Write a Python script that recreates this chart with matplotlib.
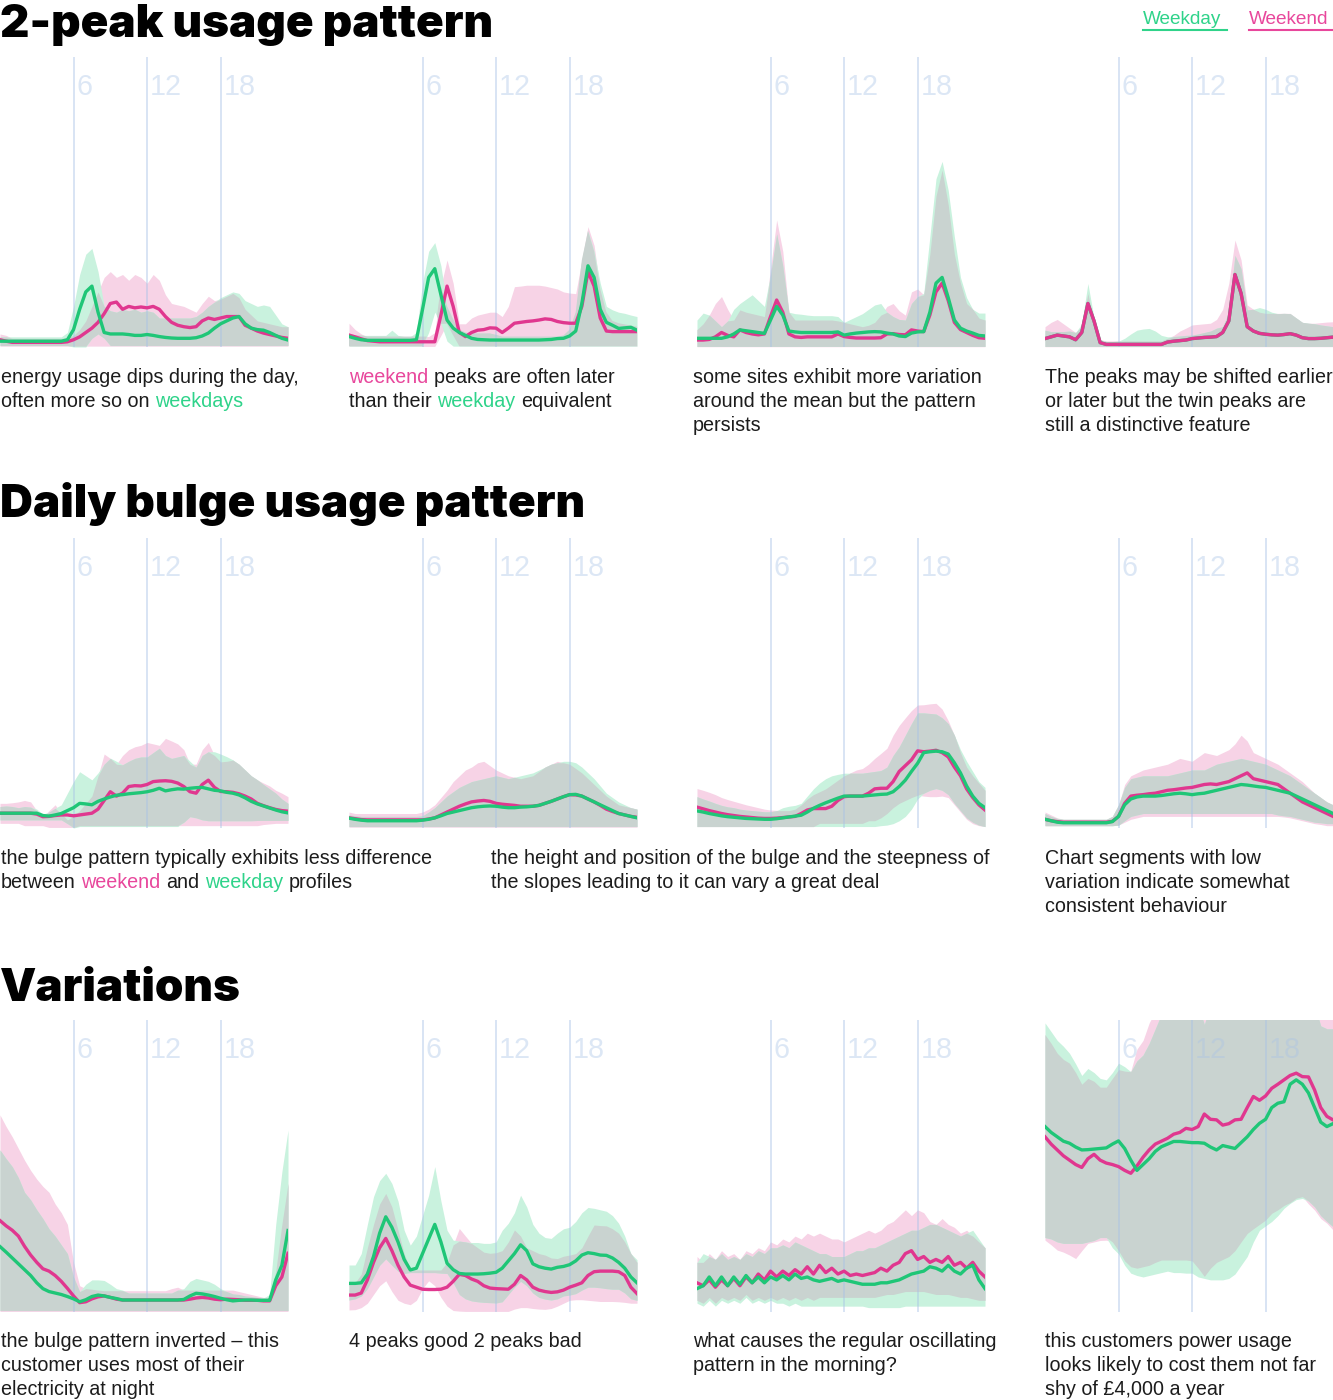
import numpy as np
import matplotlib
matplotlib.use("Agg")
import matplotlib.pyplot as plt
from matplotlib.font_manager import FontProperties
from matplotlib.lines import Line2D

# ---------------- data ----------------
HOURS = np.arange(48) * 0.5
GRID_HOURS = [6, 12, 18]
GRID_LABELS = ["6", "12", "18"]
SECTION_TITLES = ["2-peak usage pattern", "Daily bulge usage pattern", "Variations"]
LEGEND_LABELS = ["Weekday", "Weekend"]

# values in % of panel height
p1_wd = [2,2,2,2,2,2,2,2,2,2,2,2.5, 6,13,19,21,12,5,4.5,4.5, 4.5,4.3,4,4,4.3,4,3.6,3.3, 3.1,3,3,3,3.2,3.8,4.8,6.5, 8,9,10,10.5,8,6.5,6,5.8, 5,4,3,2.4]
p1_we = [2.5,2,1.6,1.6,1.6,1.6,1.6,1.6,1.6,1.6,1.6,1.8, 2.5,3.5,5,6.5,8.5,11.5,15,15.5, 13,14,13.5,13.8,13.5,14,13,10.5, 8.5,7.5,7,6.7,7,9,10,9.5, 10,10.5,10.5,10.5,7.5,6.5,5.5,4.8, 4.3,3.8,3.3,3]
p1_wd_hi = [3.5]*11 + [5, 14,25,32,34,26,14,12.5,12, 13,12.5,13,12,12.5,12,10,10, 10,10,10,10,10.5,12,14,15.5, 17,18,19,18.5,16,15,14,14.5, 14,11,8,7]
p1_wd_lo = [0.5]*12 + [0,0,0,3,4.5,3] + [0.5]*30
p1_we_hi = [4.5,4,3,3,3,3,3,3,3,3,3,3.2, 4,6,9,14,19,24,26,24, 25,23,25,24,22,25,23,18, 15,14.5,14,13,12,15,17.5,16, 16.5,17.5,18.5,17,13,11,9,8.5, 8,7.5,7,7]
p1_we_lo = [0.3]*48

p2_wd = [3.6,3,2.5,2.3,2.3,2.3,2.3,2.3,2.3,2.3,2.3,2.5, 13,24,27,18,9.3,6.5,5,4, 3,2.6,2.5,2.4,2.4,2.4,2.4,2.4, 2.4,2.4,2.4,2.4,2.5,2.6,2.9,3, 3.8,5.5,15,28,24,13,8.5,7.5, 6.4,6.6,6.8,5.8]
p2_we = [4.1,3.5,2.8,2.2,2,1.8,1.8,1.8,1.8,1.8,1.8,1.8, 1.8,1.8,1.8,11,21,14,5,3.6, 5,5.8,6,6.6,6.5,5,6.5,8.2, 8.5,8.8,9,9.3,9.7,9.5,8.8,8.4, 8.2,8.2,14,26,21,10,5.5,5.3, 5.3,5.3,5.3,5.3]
p2_wd_hi = [4.7,4,4,4,4,4,4,5.8,4,3.6,3.6,5, 22,33,36,28,14,9.5,6,5, 4.7,4.7,4.7,4.7,4.2,3.6,3.6,3.6, 3.6,3.6,3.6,3.6,3.6,3.6,3.6,4, 6,12,30,40,33,22,14,12.8, 12,11.6,11,10.5]
p2_wd_lo = [0.3]*13 + [5,12,8,2] + [0.3]*31
p2_we_hi = [8.2,6,4.5,3.6,3.6,3.6,3.6,3.6,3.6,3.6,3.6,3.6, 3.6,3.6,5,21,30,22,8,8, 10,11,11.5,12,12,10.5,14,20.8, 21,21.3,21.3,21.3,21,20.5,20,19, 18.6,18.4,30,41.5,35,20,12,9, 8.2,7.8,7.4,7]
p2_we_lo = [0.2]*15 + [4,8,4] + [0.3]*30

p3_wd = [3,3,3,3,3,3.5,4.5,5.9,5.6,5.3,5,4.7, 9.3,14,11,5.5,5.2,5,5,5, 5,5,5,5.2,4.1,4.5,4.8,5, 5.2,5.3,5.2,4.8,4.5,3.8,3.6,4.8, 5.2,5.3,12,22,24,17,9.3,6.5, 5.5,4.8,4,3.8]
p3_we = [2.4,2.4,2.6,3.5,5,4,3.5,5.9,5,4.5,4.2,4.5, 10.5,16.2,12,4.5,3.5,3.3,3.5,3.5, 3.5,3.5,3.5,4.5,3.6,3.3,3.1,3.1, 3.1,3.1,3.2,4.5,4.6,4.3,4.2,5.9, 5.5,5.3,11,19,22,16,8.5,6, 5,4,3.2,3]
p3_wd_hi = [9.3,11.7,11,9,7,9,13,15,16.5,18,16,14, 25,39,28,12,11.5,11.3,11,10.8, 10.8,10.8,10.8,10.5,8.5,9.5,10.5,11.5, 13,14.5,15,12,10.5,9.5,9.3,15, 17.4,18.5,38,58,64,54,38,24, 17,13,11.7,11.7]
p3_wd_lo = [0.2]*48
p3_we_hi = [6,8,11,15,17.4,13,9.3,12.8,12,11.5,11,10.5, 27,43.8,33,12,9.3,9.3,9.3,9.3, 9.3,9.3,9.3,9,8.5,8,7.5,7, 7.5,8.5,11,14,15,12.5,11,19, 20,18,32,52,61,49,32,22, 15,13,10,9.3]
p3_we_lo = [0.1]*48

p4_we = [2.9,3.5,4.1,3.8,3.5,2.5,5,15,9,1.5,0.9,0.9, 0.9,0.9,0.9,0.9,0.9,0.9,0.9,0.9, 1.7,2,2.2,2.4,2.9,3.1,3.3,3.4, 3.6,5,9,25,18.5,7,5.5,4.7, 4.4,4.2,4.1,4.3,4.6,4.1,3.2,2.9, 2.9,3,3.2,3.4]
p4_wd = [2.9,3.5,4.1,3.8,3.5,2.5,5,15,9,1.5,0.9,0.9, 0.9,0.9,0.9,0.9,0.9,0.9,0.9,0.9, 1.7,2,2.2,2.4,2.9,3.1,3.3,3.4, 3.6,5,9,25,18.5,7,5.5,4.7, 4.4,4.2,4.1,4.3,4.6,4.1,3.2,2.9, 2.9,3,3.2,3.4]
p4_wd_hi = [5.8,5.3,5.3,5.3,5.5,5,8,21.9,10,2.5,1.9,1.9, 2,3,4.5,5.8,6.2,6.4,5.5,4, 3.5,3.6,3.8,4,4.1,4.5,5,5.5, 6.5,7,12,31.6,27,12.8,13,13.6, 13,12,11.5,11.6,11.5,10,8.5,8.2, 8,7.6,7.3,7]
p4_wd_lo = [0.2]*48
p4_we_hi = [7,8.5,9.5,8,6.5,5,7,18.5,8,2.5,2.1,2.1, 2.1,2.1,2.1,2.1,2.1,2.1,2.1,2.1, 3,4,5.5,6.5,7.6,7.8,8,8.2, 9.5,13,22,36.9,30,14.5,13,12, 11.6,11.6,11.6,11.6,11.6,10,8.5,8.2, 8.2,8.4,8.6,8.7]
p4_we_lo = [0.1]*48

p5_wd = [5.1,5.1,5.1,5.1,5.1,5.1,5.1,4.3,4.1,4.5,5,6, 7,8.5,8.3,8,9.2,10,10.7,11.3, 11.5,11.8,12,12.2,12.5,13,13.7,12.8, 13.2,13.5,13.4,13.7,13.9,14,13.5,13, 12.8,12.3,12,11.4,10.4,9.2,8.3,7.6, 6.9,6.2,5.6,5.2]
p5_we = [5.1,5.1,5.1,5.1,5.1,5.1,4.8,3.9,4,4.3,4.5,4.5, 4.2,4.5,4.8,5.1,6.5,9.5,12.5,11, 12,14.3,14.6,14.5,15,16,16.2,16.3, 16.1,15.5,14.3,12.5,12,15,16.5,14, 12.6,12.5,12.3,11.8,11,10,8.5,7.7, 7,6.4,6,5.8]
p5_wd_hi = [7.4,7.6,7.4,7,7.4,7.2,6.5,4.8,5.5,6.8,8,12, 16,19.4,18,16.6,19,22,24.1,23, 21.8,23,24,24.5,24.5,26,27.5,25, 24,24.5,25,23,21,25,26.3,26.3, 25.5,24.6,23.5,22,20,18,16.6,15, 13.5,12,10,8.5]
p5_wd_lo = [2.8]*11 + [1.5,0] + [0.5]*17 + [2,3.9,3.5,2.8] + [2.5]*8 + [2.6]*6
p5_we_hi = [8.5,8.5,8.7,9,9.5,9,6,3.9,6,8,5,2.8, 4,6,8.5,11,18,25.5,24,22, 25,27,28,28.5,29.5,29,28.5,30.9, 30,29,27,22,22,27,29.5,25, 22.8,23,23.4,22,20,18,16.6,15.5, 14.5,13,12,10.8]
p5_we_lo = [1.6]*4 + [0.8]*4 + [0.2]*5 + [0.8]*30 + [1.2,1.4,1.6,1.6,1.6]

p6_wd = [3.4,3,2.7,2.5,2.5,2.5,2.5,2.5,2.5,2.5,2.5,2.5, 2.7,3,3.5,4.2,5,5.5,6,6.5, 7,7.3,7.5,7.6,7.5,7.2,7,7, 7.2,7.3,7.5,7.8,8.5,9.2,10,10.8, 11.5,11.6,11,10,9,8,7,6, 5,4.5,4,3.5]
p6_we = [3.5,3.2,2.9,2.8,2.8,2.8,2.8,2.8,2.8,2.8,2.8,2.8, 2.8,3.1,3.5,4.5,5.5,6.5,7.5,8.3, 9,9.3,9.5,9.2,8.5,8.2,8,7.8, 7.5,7.5,7.5,7.8,8.5,9.2,10,10.8, 11.5,11.4,11,10,9,7.8,6.5,5.7, 5,4.5,4,3.7]
p6_wd_hi = [4.5,4.2,4,4,4,4,4,4,4,4,4,4, 4.2,5.5,7,9,11,12.5,14,15, 16,16.5,17,17.5,18,17.5,17,17.5, 18,18.5,19,20,21,22,22.5,23, 23,22.5,21,19,17,14.5,12,10.5, 9,8,7,6.5]
p6_wd_lo = [0.5]*48
p6_we_hi = [5.5,5,5,5,5,5,5,5,5,5,5,5, 5.5,6.5,8,10.5,13,16,18,20, 21,22.5,23,21.5,20,19,18,17.5, 17,17.5,18,19.5,21,22,23,22.5, 22,20.5,19,17,15,13,11,9.5, 8,7.5,7,6.5]
p6_we_lo = [0.3]*48

p7_wd = [5.9,5.5,5,4.6,4.2,3.9,3.7,3.5,3.3,3.2,3.1,3, 3,3.2,3.5,3.8,4.1,4.4,5.5,6.8, 7.8,8.7,9.5,10.3,11,11,11,11, 11.2,11.4,11.6,11.7,12.5,14.3,16.5,19.5, 22.3,26,26.3,26.5,26.3,25.5,22.5,19, 14.5,11,8.5,7]
p7_we = [7.2,6.6,6,5.5,5,4.6,4.3,4,3.8,3.6,3.4,3.3, 3.3,3.4,3.6,3.8,4,5,6.2,6.7, 6.7,6.7,7.5,9.5,10.8,11,11,11, 12,13.5,13.7,13.7,16,19.5,21.5,23.5, 26.6,26.3,26.5,26.8,26,24.5,21,18, 13.5,10.5,8,6.2]
p7_wd_hi = [10.8,10,9.3,8.5,7.8,7.3,7,6.5,6.2,6,5.8,5.6, 5.6,6,7,7.5,7.8,8.5,11,13.5, 15.5,17,18,18.5,18.9,18.9,18.9,18.9, 19.2,19.5,19.8,21,25,28,32,36, 39.7,39.7,39.5,39.3,38,36,32,27, 23,19.5,16,14]
p7_wd_lo = [0.5]*30 + [0.8,1,1.5,2.5,4,6.5,10,12,13,13.6,13,11.5,8.5,6,3.5,2,1,0.5]
p7_we_hi = [13.6,13,12.3,11.5,10.5,9.8,9.2,8.6,8,7.5,7,6.5, 6.2,6.1,6,6,6.5,8,10,11.5, 12.5,13.5,15,16.5,18,19,20,20.5, 22,24,25.7,27.5,32,35.4,38,40.5, 42.4,42.5,42.8,43,41,37,32,26, 21,18,15.5,13]
p7_we_lo = [0.5]*20 + [1.6]*8 + [2.5,2.5,3.5,5,7,8.5,9.5,10.5,11.3,11,10.8,10.8,11,10.5,8,5.5,3,1.5,0.8,0.5]

p8_wd = [3,2.5,2,1.8,1.8,1.8,1.8,1.8,1.8,1.8,1.8,2.2, 4,8,10,10.7,11,11,11,11.2, 11.5,11.8,12,11.8,11.5,11.8,12,12.5, 13,13.5,14,14.5,15,14.8,14.5,14.2, 14,13.5,13,12.5,12,11,10,9, 8,7,6,5]
p8_we = [3,2.5,2.2,2,2,2,2,2,2,2,2,2.3, 4,8.5,11,11.3,11.5,11.8,12,12.5, 13,13.2,13.5,13.8,14,14.5,15,15.2, 15,15.5,16,17,18,19,17,16.5, 16,15.5,15,13.5,12,10.5,9,8, 7,6,5,4]
p8_wd_hi = [5,4,3.3,3,3,3,3,3,3,3,3,4, 8,14,17,17.5,18,18,18,18, 18,18.5,19,19.5,20,20,20,21, 22,22.5,23,23.5,24,23.5,23,22.5, 22,21,20,19,18,16.5,15,13.5, 12,10.5,9,8]
p8_wd_lo = [0.8]*12 + [1,2.5,4,4.5] + [5]*22 + [4.5,4.2,4,3.5,3,2.5,2,1.8,1.5,1.5]
p8_we_hi = [5.5,4.5,3.5,3,3,3,3,3,3,3,3,4, 8,15,18,19,20,20.5,21,21.5, 22,23,24,23.5,23,24.5,26,25.5, 25,26,27,29,32,30,26,25, 24,23,22,20.5,19,17.5,16,14, 12,10.5,9,8]
p8_we_lo = [0.8]*12 + [1,2,3,3.5] + [4]*22 + [4,3.8,3.5,3,2.5,2,1.5,1.2,0.8,0.8]

p9_wd = [22.4,20.5,18.5,16.5,14.5,12.5,10,8,7,6.5,6,5.3, 4.5,3.5,4.2,5.3,5.8,5.5,5,4.6, 4.1,4.1,4.1,4.1,4.1,4.1,4.1,4.1, 4.1,4.1,4.3,5.5,6.4,6.2,5.8,5.3, 4.7,4.2,3.8,4,4.1,4.1,4,4, 4,11,16,27.9]
p9_we = [31.3,29.5,28,26,22.5,19.5,17,14.8,14,12.5,10.5,8.1, 5.5,3.2,3.5,4.5,5.2,5.5,5,4.4, 4.1,4.1,4.1,4.1,4.1,4.1,4.1,4.1, 4.1,4.1,4.1,4.4,4.8,5,4.8,4.4, 4.2,4.4,4.3,4.2,4,4,4,3.8, 3.8,9,12,20.1]
p9_wd_hi = [55.5,52.5,49.8,46,41,38.4,35,32,28.5,26,23,20, 12,7,9.5,11,11,10.8,9.5,8, 7.5,6.5,6.5,6.5,6.5,6.5,6.5,6.5, 6.5,7.5,8,10.5,11.5,11,10.5,9.5, 8,7,6.2,6,5.5,5.3,5,4.8, 6,30,48,62.3]
p9_wd_lo = [0.5]*48
p9_we_hi = [67.5,63.5,60,56,52,48.5,45.5,43,41,37,34,30, 17,9,8,7.8,7.5,7.3,7.3,7.3, 7.3,7.3,7.3,7.3,7.3,7.3,7.3,7.3, 8,8.5,7.5,7.5,7.5,7.5,7.5,7.5, 7.5,7.5,7.5,7,6.5,6,5.5,5, 5,14,30,44]
p9_we_lo = [0.2]*48

p10_wd = [9.8,9.8,10,13,19,27,32.6,29,24,18,14.4,15, 20,25,30,24,16.7,14.5,13.2,13,13,13,13.1,13.3, 13.6,15,17.5,20,23,21,16.5,15.5,15,14.7,15.3,15.6, 16.2,17.5,19.5,20.3,20,19.5,19.4,18.5,17,15,12,10]
p10_we = [5.8,5.8,6.5,11,17,22,25.2,21,16,12,9.2,8.5, 7.8,7.7,7.7,7.8,8.5,10.5,12.9,12.5,11.3,10.5,9,8.2, 8,7.9,7.8,9.5,12.5,11,8.5,7.5,7,6.7,6.9,7.5, 8.5,9.2,10,12.5,13.8,14,14,14,13.8,12.5,8.5,6.3]
p10_wd_hi = [16.1,16.1,20,30,39.5,45,47.5,44,38,28,22.9,26, 33,40,49.8,38,28,24.6,24.3,24,23.8,23.8,23.5,23.5, 24,28,30.4,34,40,36,30,27,25.5,25.2,27,28.5, 29,31,34,35.8,35.5,35,34.5,33,30.4,26,20,17.9]
p10_wd_lo = [4.1,4.5,5.5,8,12,16,18.2,16,14,13.2,13.5,13.5, 13.5,13.5,13.5,13.3,13.2,10,6,4.5,3.8,3.5,3.3,3.2, 3.1,3.5,6,8.5,10.5,9,6.5,5,4.4,4.1,4.5,5.5, 5.8,6.3,7.5,8.5,8.5,8.3,8,7.8,7.8,6.5,4.5,4]
p10_we_hi = [9.8,10,13,22,30,37,40.6,36,28,20,14.4,14.4, 14.4,14.4,14.4,14.4,17,23,28.6,26,23.5,22,20.5,20.1, 20.3,21,24,28.1,26,22,21,20,19.5,18.5,18.3,19.1, 19.5,20,22,26,29.8,29.6,29.5,28.5,27,24,20,17]
p10_we_lo = [0.7,0.8,1.5,3,6,9,10.7,7,4,3,2.5,4, 8,10.7,9,5,2,0.5,0.3,0.2,0.2,0.2,0.2,0.2, 0.2,0.2,0.2,1,1.5,1.5,1.2,1,0.9,1.2,2,3, 4,4.2,4.2,4,3.8,3.6,3.6,3.6,3.5,3.3,3,3]

p11_wd = [8,9,12,9,12,9,12,9.5,12.5,10,12,10, 12,11,12.5,11,13,11.5,12,11, 10.5,11,11.5,10.5,11,10.5,10,9.5, 9.5,9.5,10,10,10.5,11,12,13, 13.5,14,15.5,15,14,16,14,13, 15,16,11,8]
p11_we = [10,9,11,8.5,11,9,11.5,9,12,10,13,11, 14,12,14,12.5,14.5,13,15.5,13, 16,13.5,15,13,14,12.5,13,12.5, 13,13.5,15,14,16,17,20,21, 18,19,17,18,17,19,16,17, 15,17,14,12]
p11_wd_hi = [17,20,19,18,20,18,19,18,20,19,21,20, 22,22,23,22,24,23,22,21, 20,20,19,19,19,20,21,21, 22,22,23,24,25,26,27,28, 28,29,30,30,29,28,27,26, 27,28,25,22]
p11_wd_lo = [3,2,4,2,4,3,4,3,5,3,4,3, 4,3,3,2,3,2,2,2, 2,2,2,2,2,2,2,2, 1.5,1.5,1.5,1.5,1.5,1.5,2,2, 2,2,2,2,2,2,2,2, 2,2,2,2]
p11_we_hi = [19,17,20,18,21,19,20,18,21,20,22,21, 24,23,25,24,26,25,27,26, 27,26,25,25,24,25,26,27, 28,27,28,30,31,33,35,33, 35,34,31,30,32,30,29,27, 28,26,24,22]
p11_we_lo = [4,3,5,3,5,4,5,4,6,4,5,4, 5,4,5,4,5,4,5,4, 5,5,5,5,5,5,5,5, 5,5,5.5,6,6,6.5,7,7, 7,7,6.5,6,6,6,5.5,5, 5,4.5,4,4]

p12_wd = [63.5,61.5,60,58.5,57.8,56.5,55.5,55.6,55.8,56,56.2,57.5, 58.6,56,52,48.5,50.5,52.5,55,56.6,57.5,58.4,58.4,58.2, 58,58,57.8,56.5,55.5,57,56.5,56,58,60,62.5,64.6, 66,70,71.5,72,78,79.5,78,75,70,65,63.5,64.5]
p12_we = [60,57.5,55.5,53.5,52,50.5,49.5,52.5,54,52,51,50.5, 49.8,48.5,47.5,50,53,55.5,57.5,58.5,59.5,60.9,61.5,62.9, 62.5,63.5,67.8,66,65.8,64,64.5,65.8,66,70,73.8,72.5, 74,76.6,78,79.5,81,81.8,80.6,80.5,76,70,67,65.8]
p12_wd_hi = [99,96,93,91,88.6,85,81,83.4,82,80,79.5,82, 85.2,84,82.3,86,88,92,97,102,105,105,105,105, 105,105,98.5,105,105,105,105,105,105,105,105,105, 105,105,105,105,105,105,105,105,105,98,97,97]
p12_wd_lo = [25.5,25,24,23.5,23.5,23.5,23.5,24,24.5,25.5,25.5,22, 19.9,16,13.3,12.5,12,12.5,13,13.5,14,13.5,13.5,13.3, 13.3,12,11.5,11,11,11,11.5,13,16,19,24,28, 29.5,31,33,35.5,37.2,38.5,38.9,38,36,33,31,29.2]
p12_we_hi = [95,92,88.6,86.5,85.2,82,78,80,79,77,77,80, 83,82.5,82.5,90,93,99,103,105,105,105,105,105] + [105]*24
p12_we_lo = [24.6,23,21.2,20.5,19.5,18.3,21,23.5,24,24.5,24.6,24, 21,17.5,15.5,15,15.5,16,17,17.8,17.8,17.8,17.8,17.8, 17.5,15,12.2,15,17,18,19,21,24,26.9,28.5,30, 31.5,33.8,35,36.5,37.5,39,39.5,37,34.9,32,30.4,28.1]

PANELS = [
    (p1_wd, p1_we, p1_wd_lo, p1_wd_hi, p1_we_lo, p1_we_hi),
    (p2_wd, p2_we, p2_wd_lo, p2_wd_hi, p2_we_lo, p2_we_hi),
    (p3_wd, p3_we, p3_wd_lo, p3_wd_hi, p3_we_lo, p3_we_hi),
    (p4_wd, p4_we, p4_wd_lo, p4_wd_hi, p4_we_lo, p4_we_hi),
    (p5_wd, p5_we, p5_wd_lo, p5_wd_hi, p5_we_lo, p5_we_hi),
    (p6_wd, p6_we, p6_wd_lo, p6_wd_hi, p6_we_lo, p6_we_hi),
    (p7_wd, p7_we, p7_wd_lo, p7_wd_hi, p7_we_lo, p7_we_hi),
    (p8_wd, p8_we, p8_wd_lo, p8_wd_hi, p8_we_lo, p8_we_hi),
    (p9_wd, p9_we, p9_wd_lo, p9_wd_hi, p9_we_lo, p9_we_hi),
    (p10_wd, p10_we, p10_wd_lo, p10_wd_hi, p10_we_lo, p10_we_hi),
    (p11_wd, p11_we, p11_wd_lo, p11_wd_hi, p11_we_lo, p11_we_hi),
    (p12_wd, p12_we, p12_wd_lo, p12_wd_hi, p12_we_lo, p12_we_hi),
]
PINK_ON_TOP = [False, False, False, True, False, False, False, False, False, False, False, False]

DARK, GREEN_T, PINK_T = "#1c1c1c", "#2fd38a", "#e8479c"
CAPTIONS = [
    # (row, x, [lines of (text, color) segments])
    (0, 1, [[("energy usage dips during the day,", DARK)], [("often more so on ", DARK), ("weekdays", GREEN_T)]]),
    (0, 349, [[("weekend", PINK_T), (" peaks are often later", DARK)], [("than their ", DARK), ("weekday", GREEN_T), (" equivalent", DARK)]]),
    (0, 693, [[("some sites exhibit more variation", DARK)], [("around the mean but the pattern", DARK)], [("persists", DARK)]]),
    (0, 1045, [[("The peaks may be shifted earlier", DARK)], [("or later but the twin peaks are", DARK)], [("still a distinctive feature", DARK)]]),
    (1, 1, [[("the bulge pattern typically exhibits less difference", DARK)], [("between ", DARK), ("weekend", PINK_T), (" and ", DARK), ("weekday", GREEN_T), (" profiles", DARK)]]),
    (1, 491, [[("the height and position of the bulge and the steepness of", DARK)], [("the slopes leading to it can vary a great deal", DARK)]]),
    (1, 1045, [[("Chart segments with low", DARK)], [("variation indicate somewhat", DARK)], [("consistent behaviour", DARK)]]),
    (2, 1, [[("the bulge pattern inverted \u2013 this", DARK)], [("customer uses most of their", DARK)], [("electricity at night", DARK)]]),
    (2, 349, [[("4 peaks good 2 peaks bad", DARK)]]),
    (2, 693, [[("what causes the regular oscillating", DARK)], [("pattern in the morning?", DARK)]]),
    (2, 1045, [[("this customers power usage", DARK)], [("looks likely to cost them not far", DARK)], [("shy of \u00a34,000 a year", DARK)]]),
]

# ---------------- style ----------------
W, H = 1333, 1400
GREEN, PINK = "#1fc677", "#e0378f"
GREEN_BAND, PINK_BAND, OVERLAP = "#c9f2de", "#f7d3e6", "#c9d3d0"
GRID_C = "#a9c3e6"
ROW_TOP = [57, 538, 1020]
ROW_BOT = [347, 828, 1312]
COL_LEFT = [0, 349, 697, 1045]
PANEL_W = 288
TITLE_BASE = [37, 517, 1001]
CAP_BASE = [383, 864, 1347]
LINE_GAP = 24

fig = plt.figure(figsize=(W / 100, H / 100), dpi=100)
fig.patch.set_facecolor("white")
renderer = fig.canvas.get_renderer()


def fx(px):
    return px / W


def fy(py):
    return 1 - py / H


def text_w(s, fp):
    w, h, d = renderer.get_text_width_height_descent(s, fp, ismath=False)
    return w


LABEL_FP = FontProperties(family=["Liberation Sans", "DejaVu Sans"], size=20)
LABEL_FP.set_size(20 * 32 / text_w("12", LABEL_FP))

for k, arrs in enumerate(PANELS):
    for a in arrs:
        if len(a) != 48:
            raise ValueError(f"panel {k+1} array length {len(a)}")
    wd, we, wd_lo, wd_hi, we_lo, we_hi = [np.asarray(a, float) for a in arrs]
    r, c = divmod(k, 4)
    hpx = ROW_BOT[r] - ROW_TOP[r]
    ax = fig.add_axes([fx(COL_LEFT[c]), fy(ROW_BOT[r]), PANEL_W / W, hpx / H])
    ax.set_xlim(0, 23.5)
    ax.set_ylim(0, 100)
    ax.axis("off")
    ax.fill_between(HOURS, we_lo, we_hi, color=PINK_BAND, lw=0, zorder=1)
    ax.fill_between(HOURS, wd_lo, wd_hi, color=GREEN_BAND, lw=0, zorder=1.1)
    lo = np.maximum(wd_lo, we_lo)
    hi = np.minimum(wd_hi, we_hi)
    ax.fill_between(HOURS, lo, hi, where=hi > lo, interpolate=True, color=OVERLAP, lw=0, zorder=1.2)
    for h, lab in zip(GRID_HOURS, GRID_LABELS):
        ax.axvline(h, color=GRID_C, alpha=0.45, lw=1.4, zorder=2)
        ax.text(h + 3 / 12.24, 1 - 38 / hpx, lab, transform=ax.get_xaxis_transform(),
                color=GRID_C, alpha=0.4, fontproperties=LABEL_FP, va="baseline", ha="left", zorder=2)
    zg, zp = (3.0, 3.1) if PINK_ON_TOP[k] else (3.1, 3.0)
    ax.plot(HOURS, wd, color=GREEN, lw=2.4, zorder=zg, solid_joinstyle="round")
    ax.plot(HOURS, we, color=PINK, lw=2.4, zorder=zp, solid_joinstyle="round")

# section titles
TITLE_FP = FontProperties(family=["Inter", "Lato", "Roboto", "DejaVu Sans"], weight="black", size=34)
TITLE_FP.set_size(34 * 493 / text_w(SECTION_TITLES[0], TITLE_FP))
for t, b in zip(SECTION_TITLES, TITLE_BASE):
    fig.text(fx(0), fy(b), t, fontproperties=TITLE_FP, color="black", va="baseline", ha="left")

# captions
CAP_FP = FontProperties(family=["Liberation Sans", "DejaVu Sans"], size=13)
CAP_FP.set_size(13 * 296 / text_w("energy usage dips during the day,", CAP_FP))
bar_w = text_w("|", CAP_FP)


def draw_rich(x0, base, segments, fp):
    prefix = ""
    for txt, col in segments:
        lead = len(txt) - len(txt.lstrip(" "))
        pre = prefix + txt[:lead]
        x = x0 + (text_w(pre + "|", fp) - bar_w if pre else 0)
        fig.text(fx(x), fy(base), txt.strip(" "), color=col, fontproperties=fp, va="baseline", ha="left")
        prefix += txt


for row, x0, lines in CAPTIONS:
    for i, segs in enumerate(lines):
        draw_rich(x0, CAP_BASE[row] + i * LINE_GAP, segs, CAP_FP)

# legend
LEG_FP = FontProperties(family=["Liberation Sans", "DejaVu Sans"], size=13)
LEG_FP.set_size(13 * 79 / text_w("Weekday", LEG_FP))
for lab, col, x0, x1 in [(LEGEND_LABELS[0], GREEN_T, 1143, 1227), (LEGEND_LABELS[1], PINK_T, 1249, 1333)]:
    fig.text(fx(x0), fy(24), lab, color=col, fontproperties=LEG_FP, va="baseline", ha="left")
    fig.add_artist(Line2D([fx(x0), fx(x1)], [fy(30), fy(30)], transform=fig.transFigure, color=col, lw=1.5))

fig.savefig("out.png", dpi=100, facecolor="white")
